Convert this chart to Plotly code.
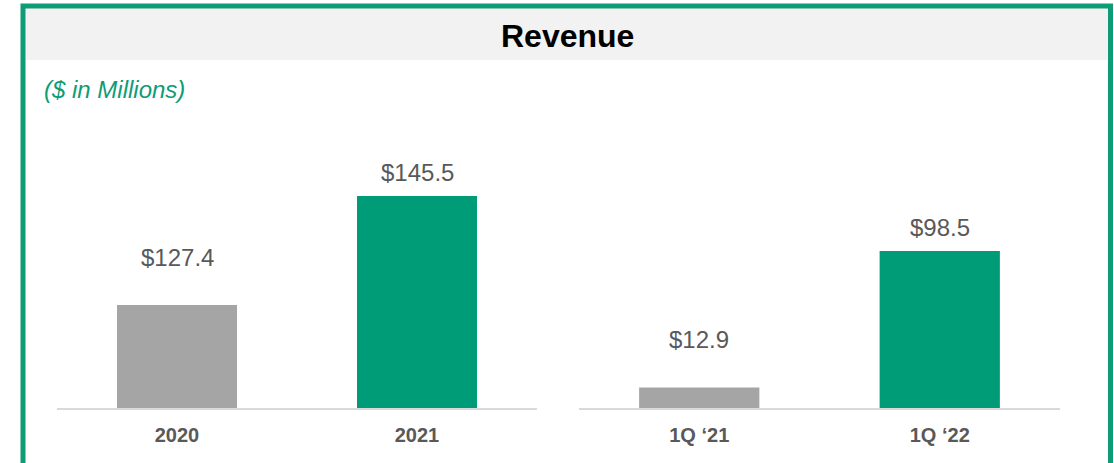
import plotly.graph_objects as go

# Data
annual_periods = ["2020", "2021"]
annual_revenue = [127.4, 145.5]
quarter_periods = ["1Q \u201821", "1Q \u201822"]
quarter_revenue = [12.9, 98.5]

TITLE = "Revenue"
SUBTITLE = "($ in Millions)"

# Page geometry (pixels)
W, H = 1114, 463
GREEN = "#009B77"
BORDER_GREEN = "#0E9C76"
GREY_BAR = "#A5A5A5"
LABEL_GREY = "#595959"
FONT = "Liberation Sans, Arial, sans-serif"

PLOT_TOP, PLOT_BOTTOM = 110, 408
LEFT_X = (57, 537)
RIGHT_X = (579, 1060)

# axis ranges (left panel does not start at zero in the source)
LEFT_RANGE = [110.3, 159.8]
RIGHT_RANGE = [0, 187.0]

# label offsets above bar top (px), short bar then tall bar
LABEL_SHIFT = [48, 24]


def px_x(x):
    return x / W


def px_y(y):
    return 1 - y / H


fig = go.Figure()

fig.add_trace(
    go.Bar(
        x=annual_periods,
        y=annual_revenue,
        marker_color=[GREY_BAR, GREEN],
        marker_line_width=0,
        xaxis="x",
        yaxis="y",
        hoverinfo="skip",
    )
)
fig.add_trace(
    go.Bar(
        x=quarter_periods,
        y=quarter_revenue,
        marker_color=[GREY_BAR, GREEN],
        marker_line_width=0,
        xaxis="x2",
        yaxis="y2",
        hoverinfo="skip",
    )
)

annotations = []
for vals, xref, yref in [
    (annual_revenue, "x", "y"),
    (quarter_revenue, "x2", "y2"),
]:
    # x given as category index ("2020" would be read as an index otherwise)
    for i, v in enumerate(vals):
        annotations.append(
            dict(
                x=i,
                y=v,
                xref=xref,
                yref=yref,
                xanchor="center",
                yanchor="middle",
                text=f"${v:.1f}",
                showarrow=False,
                yshift=LABEL_SHIFT[i],
                font=dict(family=FONT, size=24, color=LABEL_GREY),
            )
        )

annotations.append(
    dict(
        x=px_x(567),
        y=px_y(36),
        xref="paper",
        yref="paper",
        xanchor="center",
        yanchor="middle",
        text=f"<b>{TITLE}</b>",
        showarrow=False,
        font=dict(family=FONT, size=32, color="#000000"),
    )
)
annotations.append(
    dict(
        x=px_x(42),
        y=px_y(89),
        xref="paper",
        yref="paper",
        xanchor="left",
        yanchor="middle",
        text=f"<i>{SUBTITLE}</i>",
        showarrow=False,
        font=dict(family=FONT, size=24, color=BORDER_GREEN),
    )
)

shapes = [
    # grey title band
    dict(
        type="rect",
        xref="paper",
        yref="paper",
        x0=px_x(25.5),
        x1=px_x(1108),
        y0=px_y(60),
        y1=px_y(8),
        fillcolor="#F2F2F2",
        line_width=0,
        layer="below",
    ),
    # green frame
    dict(
        type="rect",
        xref="paper",
        yref="paper",
        x0=px_x(23),
        x1=px_x(1110.5),
        y0=px_y(480),
        y1=px_y(6),
        line=dict(color=BORDER_GREEN, width=5),
        fillcolor="rgba(0,0,0,0)",
    ),
]

axis_x = dict(
    type="category",
    range=[-0.5, 1.5],
    automargin=False,
    showgrid=False,
    zeroline=False,
    showline=True,
    linecolor="#D9D9D9",
    linewidth=2,
    ticks="",
    ticklabelstandoff=8,
    tickfont=dict(family=FONT, size=20, color=LABEL_GREY, weight="bold"),
    fixedrange=True,
)
axis_y = dict(
    automargin=False,
    showgrid=False,
    zeroline=False,
    showline=False,
    showticklabels=False,
    fixedrange=True,
)

fig.update_layout(
    width=W,
    height=H,
    margin=dict(l=0, r=0, t=0, b=0),
    paper_bgcolor="#FFFFFF",
    plot_bgcolor="rgba(0,0,0,0)",
    showlegend=False,
    bargap=0.5,
    font=dict(family=FONT),
    xaxis=dict(axis_x, domain=[px_x(LEFT_X[0]), px_x(LEFT_X[1])], anchor="y"),
    yaxis=dict(
        axis_y,
        domain=[px_y(PLOT_BOTTOM), px_y(PLOT_TOP)],
        range=LEFT_RANGE,
        anchor="x",
    ),
    xaxis2=dict(axis_x, domain=[px_x(RIGHT_X[0]), px_x(RIGHT_X[1])], anchor="y2"),
    yaxis2=dict(
        axis_y,
        domain=[px_y(PLOT_BOTTOM), px_y(PLOT_TOP)],
        range=RIGHT_RANGE,
        anchor="x2",
    ),
    annotations=annotations,
    shapes=shapes,
)

# drop the browser's default body margin so the figure sits at 0,0
fig.write_html(
    "out.html",
    config={"displayModeBar": False},
    post_script="document.body.style.margin='0';",
)
